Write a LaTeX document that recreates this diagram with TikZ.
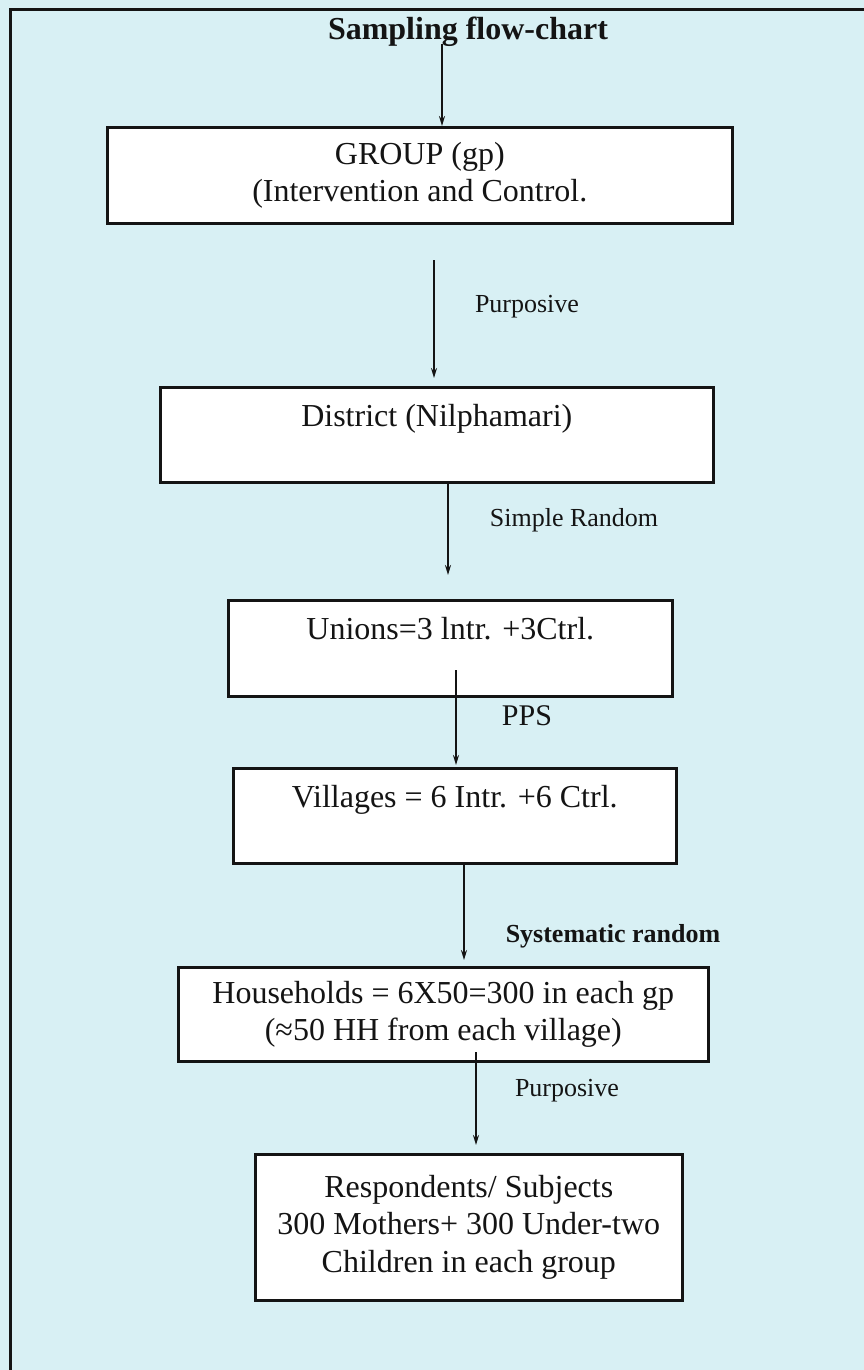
\documentclass[tikz,border=0pt]{standalone}
\usepackage{fontspec}
\setmainfont{Liberation Serif}
\usetikzlibrary{arrows.meta}
\definecolor{bgc}{RGB}{216,240,244}
\definecolor{ink}{RGB}{20,20,20}
\begin{document}
\begin{tikzpicture}[x=1pt,y=1pt,
  box/.style={draw=ink, line width=2.6pt, fill=white, inner sep=0pt, anchor=north west,
    align=center, text=ink, font=\fontsize{32}{37.5}\selectfont},
  onebox/.style={box, text height=39pt, text depth=56pt},
  lbl/.style={anchor=base, inner sep=0pt, text=ink, font=\fontsize{26}{30}\selectfont},
  arr/.style={draw=ink, line width=2pt, -{Stealth[length=10pt,width=6pt]}}]
\useasboundingbox (0,0) rectangle (864,-1370);
\fill[bgc] (0,0) rectangle (864,-1370);
\draw[ink, line width=3pt] (10,-1370) -- (10,-10) -- (864,-10);

% title
\node[anchor=base, inner sep=0pt, text=ink, font=\bfseries\fontsize{32}{36}\selectfont] (title) at (468,-40) {Sampling flow-chart};

% boxes
\node[box, minimum width=625pt, minimum height=96pt] (b1) at (106,-126)
  {GROUP (gp)\\(Intervention and Control.};
\node[onebox, minimum width=553pt] (b2) at (159,-386) {District (Nilphamari)};
\node[onebox, minimum width=444pt, text depth=57pt] (b3) at (227,-599) {Unions=3 lntr. +3Ctrl.};
\node[onebox, minimum width=443pt] (b4) at (232,-767) {Villages = 6 Intr. +6 Ctrl.};
\node[box, minimum width=530pt, minimum height=94pt] (b5) at (177,-966)
  {Households = 6X50=300 in each gp\\(≈50 HH from each village)};
\node[box, minimum width=427pt, minimum height=146pt] (b6) at (254,-1153)
  {Respondents/ Subjects\\300 Mothers+ 300 Under-two\\Children in each group};

% labels
\node[lbl] (l1) at (527,-312) {Purposive};
\node[lbl] (l2) at (574,-526) {Simple Random};
\node[lbl, font=\fontsize{30}{34}\selectfont] (l3) at (527,-725) {PPS};
\node[lbl, font=\bfseries\fontsize{26}{30}\selectfont] (l4) at (613,-942) {Systematic random};
\node[lbl] (l5) at (567,-1096) {Purposive};

% connector start points
\coordinate (c1) at (442,-44);
\coordinate (c2) at (434,-260);
\coordinate (c3) at (448,-481);
\coordinate (c4) at (456,-670);
\coordinate (c5) at (464,-862);
\coordinate (c6) at (476,-1052);

% connectors
\draw[arr] (c1) -- (c1 |- b1.north);
\draw[arr, line width=1.6pt, shorten >=8pt] (c2) -- (c2 |- b2.north);
\draw[arr, shorten >=24pt] (c3) -- (c3 |- b3.north);
\draw[arr, shorten >=2pt] (c4) -- (c4 |- b4.north);
\draw[arr, shorten >=6pt] (c5) -- (c5 |- b5.north);
\draw[arr, shorten >=8pt] (c6) -- (c6 |- b6.north);
\end{tikzpicture}
\end{document}
